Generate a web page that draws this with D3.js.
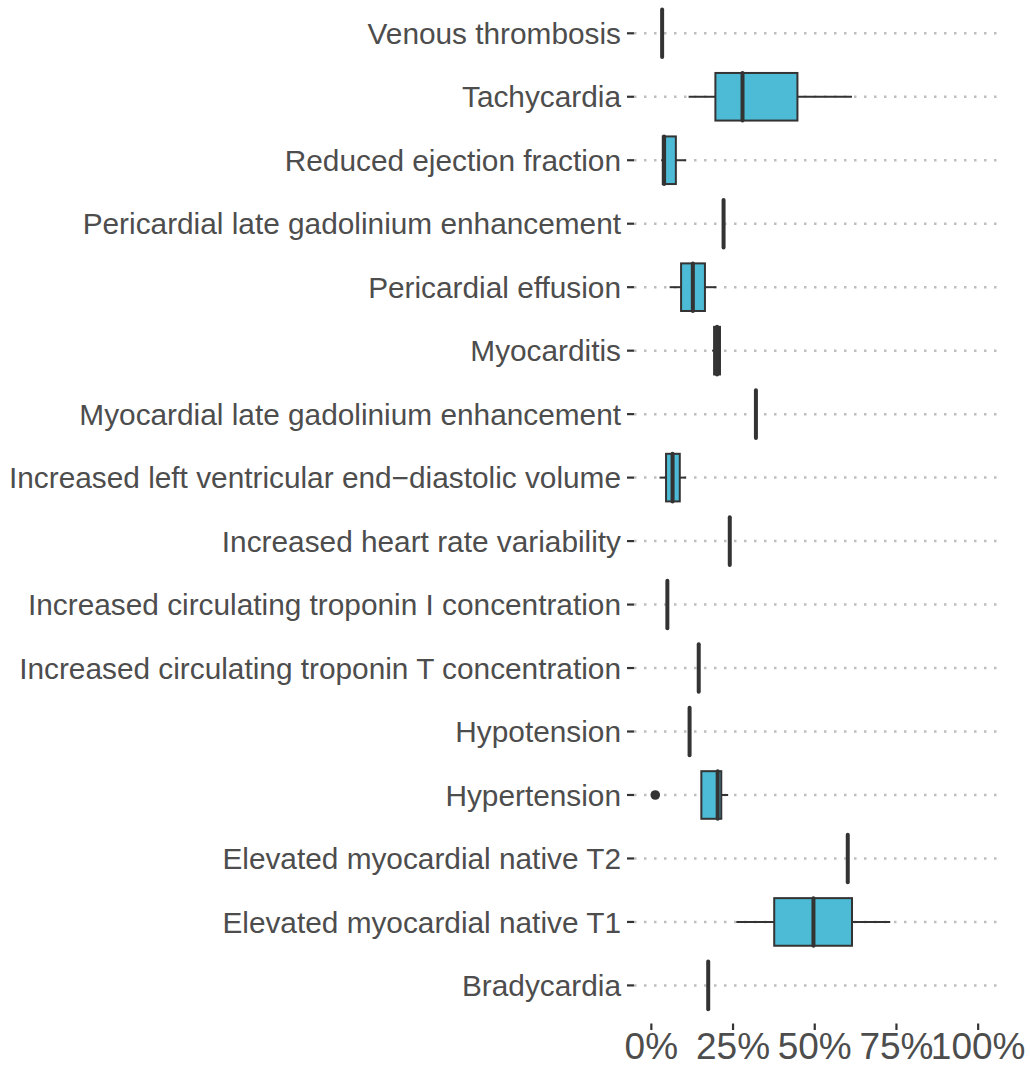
<!DOCTYPE html>
<html>
<head>
<meta charset="utf-8">
<script src="https://cdn.jsdelivr.net/npm/d3@7"></script>
<style>
  body { margin: 0; background: #fff; }
  svg { display: block; font-family: "Liberation Sans", Arial, sans-serif; }
</style>
</head>
<body>
<svg id="chart" width="1030" height="1067"></svg>
<script>
// categories, top to bottom
var categories = [
  "Venous thrombosis",
  "Tachycardia",
  "Reduced ejection fraction",
  "Pericardial late gadolinium enhancement",
  "Pericardial effusion",
  "Myocarditis",
  "Myocardial late gadolinium enhancement",
  "Increased left ventricular end\u2212diastolic volume",
  "Increased heart rate variability",
  "Increased circulating troponin I concentration",
  "Increased circulating troponin T concentration",
  "Hypotension",
  "Hypertension",
  "Elevated myocardial native T2",
  "Elevated myocardial native T1",
  "Bradycardia"
];
// box stats in percent (same order as categories)
var whiskerLow  = [3.3, 11.4, 3.0, 22.1,  5.6, 18.6, 32.0, 2.5, 24.0, 4.9, 14.5, 11.7, 15.3, 60.1, 26.0, 17.4];
var q1          = [3.3, 19.6, 3.5, 22.1,  9.1, 19.2, 32.0, 4.5, 24.0, 4.9, 14.5, 11.7, 15.3, 60.1, 37.6, 17.4];
var median      = [3.3, 27.9, 3.9, 22.1, 12.7, 20.1, 32.0, 6.5, 24.0, 4.9, 14.5, 11.7, 20.3, 60.1, 49.6, 17.4];
var q3          = [3.3, 44.7, 7.5, 22.1, 16.4, 21.0, 32.0, 8.7, 24.0, 4.9, 14.5, 11.7, 21.4, 60.1, 61.4, 17.4];
var whiskerHigh = [3.3, 61.4, 10.6, 22.1, 19.9, 21.3, 32.0, 10.6, 24.0, 4.9, 14.5, 11.7, 23.5, 60.1, 73.1, 17.4];
var outliers    = [[], [], [], [], [], [], [], [], [], [], [], [], [1.2], [], [], []];
var xTicks = [0, 25, 50, 75, 100];

var rows = categories.map(function(c, i) {
  return {name: c, lo: whiskerLow[i], q1: q1[i], med: median[i], q3: q3[i], hi: whiskerHigh[i], out: outliers[i]};
});

var svg = d3.select("#chart");
var panel = {left: 635, right: 994.5, top: -4.8, bottom: 1023.5};

var x = d3.scaleLinear().domain([-5, 105]).range([panel.left, panel.right]);
var y = d3.scaleBand().domain(categories).range([panel.top, panel.bottom]).paddingOuter(0.1).paddingInner(0);
var step = y.bandwidth();
var boxH = step * 0.75;
function cy(d) { return y(d) + step / 2; }

var ink = "#333333", textCol = "#4d4d4d", fillCol = "#4DBBD5";

// dotted horizontal grid
svg.append("g").selectAll("line").data(categories).enter().append("line")
  .attr("x1", panel.left - 1).attr("x2", panel.right + 2)
  .attr("y1", cy).attr("y2", cy)
  .attr("stroke", "#bebebe").attr("stroke-width", 2.5)
  .attr("stroke-dasharray", "2.5,7.5");

// y axis ticks + labels
var yAx = svg.append("g");
yAx.selectAll("line").data(categories).enter().append("line")
  .attr("x1", 627).attr("x2", 634).attr("y1", cy).attr("y2", cy)
  .attr("stroke", ink).attr("stroke-width", 2.2);
yAx.selectAll("text").data(categories).enter().append("text")
  .attr("x", 621).attr("y", cy).attr("dy", "0.36em")
  .attr("text-anchor", "end").attr("fill", textCol)
  .style("font-size", "29.8px")
  .text(function(d) { return d; });

// x axis ticks + labels
var xAx = svg.append("g");
xAx.selectAll("line").data(xTicks).enter().append("line")
  .attr("x1", x).attr("x2", x).attr("y1", panel.bottom).attr("y2", panel.bottom + 6.5)
  .attr("stroke", ink).attr("stroke-width", 2.2);
xAx.selectAll("text").data(xTicks).enter().append("text")
  .attr("x", x).attr("y", 1059)
  .attr("text-anchor", "middle").attr("fill", textCol)
  .style("font-size", "37px")
  .text(function(d) { return d + "%"; });

// boxes
var g = svg.append("g").selectAll("g").data(rows).enter().append("g");

g.append("line")
  .attr("x1", function(d) { return x(d.lo); }).attr("x2", function(d) { return x(d.q1); })
  .attr("y1", function(d) { return cy(d.name); }).attr("y2", function(d) { return cy(d.name); })
  .attr("stroke", ink).attr("stroke-width", 2);
g.append("line")
  .attr("x1", function(d) { return x(d.q3); }).attr("x2", function(d) { return x(d.hi); })
  .attr("y1", function(d) { return cy(d.name); }).attr("y2", function(d) { return cy(d.name); })
  .attr("stroke", ink).attr("stroke-width", 2);
g.append("rect")
  .attr("x", function(d) { return x(d.q1); })
  .attr("width", function(d) { return x(d.q3) - x(d.q1); })
  .attr("y", function(d) { return cy(d.name) - boxH / 2; })
  .attr("height", boxH)
  .attr("fill", fillCol).attr("stroke", ink).attr("stroke-width", 2);
g.append("line")
  .attr("x1", function(d) { return x(d.med); }).attr("x2", function(d) { return x(d.med); })
  .attr("y1", function(d) { return cy(d.name) - boxH / 2; })
  .attr("y2", function(d) { return cy(d.name) + boxH / 2; })
  .attr("stroke", ink).attr("stroke-width", 4).attr("stroke-linecap", "round");

g.selectAll("circle").data(function(d) { return d.out.map(function(v) { return {v: v, name: d.name}; }); })
  .enter().append("circle")
  .attr("cx", function(d) { return x(d.v); }).attr("cy", function(d) { return cy(d.name); })
  .attr("r", 4.8).attr("fill", ink);
</script>
</body>
</html>
